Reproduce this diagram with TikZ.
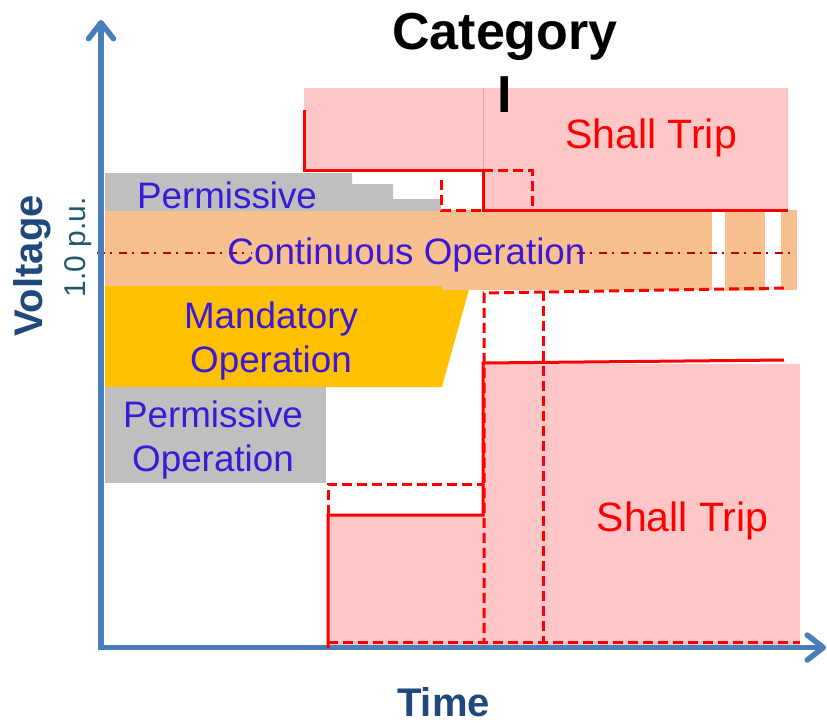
\documentclass[tikz,border=0pt]{standalone}
\usepackage{fontspec}
\setmainfont{Liberation Sans}
\usetikzlibrary{arrows.meta}

\definecolor{axisblue}{RGB}{74,126,187}
\definecolor{titleblue}{RGB}{31,73,125}
\definecolor{putext}{RGB}{33,88,104}
\definecolor{zonetext}{RGB}{60,25,215}
\definecolor{tripred}{RGB}{255,199,199}
\definecolor{tripedge}{RGB}{245,160,160}
\definecolor{contorange}{RGB}{249,192,143}
\definecolor{mandgold}{RGB}{255,192,0}
\definecolor{permgray}{RGB}{191,191,191}
\definecolor{nominalred}{RGB}{192,0,0}

\begin{document}
\begin{tikzpicture}[x=1pt,y=-1pt,
  axisline/.style={draw=axisblue,line width=5.5pt,
    -{Straight Barb[length=16pt,width=25pt,round]}},
  limit/.style={draw=red,line width=3pt},
  limitdash/.style={limit,dash pattern=on 10pt off 5pt},
  nominal/.style={draw=nominalred,line width=2.2pt,
    dash pattern=on 8pt off 5pt on 2pt off 7pt},
  zonelabel/.style={text=zonetext,inner sep=0pt,align=center,
    font=\fontsize{36.8}{44}\selectfont},
  triplabel/.style={text=red,inner sep=0pt,font=\fontsize{41}{49}\selectfont},
  axislabel/.style={text=titleblue,inner sep=0pt,font=\fontsize{40}{48}\selectfont\bfseries}]
\useasboundingbox (0,0) rectangle (827,724);

% upper trip region
\fill[tripred] (304,88) -- (788,88) -- (788,210) -- (483,210) -- (483,170)
  -- (304,170) -- cycle;
\draw[tripedge,line width=0.8pt] (483,88) -- (483,170);

% lower trip region
\fill[tripred] (328,515) -- (483,515) -- (483,364) -- (800,364) -- (800,646)
  -- (328,646) -- cycle;

% permissive band above nominal
\fill[permgray] (105,173) -- (352,173) -- (352,184) -- (393,184) -- (393,199)
  -- (441,199) -- (441,212) -- (105,212) -- cycle;

% mandatory operation band
\fill[mandgold] (105,286) -- (470,286) -- (443,383) -- (442,387) -- (105,387) -- cycle;

% continuous operation band
\fill[contorange] (105,211) rectangle (442,286);
\fill[contorange] (442,210) rectangle (712,290);
\fill[contorange] (725,210) rectangle (765,291);
\fill[contorange] (781,210) rectangle (797,290);

% permissive operation below mandatory
\fill[permgray] (105,387) rectangle (326,483);

% nominal voltage line
\draw[nominal] (97,253) -- (252,253);
\draw[nominal] (577,253) -- (790,253);

% axes
\draw[axisline] (101,650.25) -- (101,20);
\draw[axisline] (98.25,647.5) -- (826,647.5);

% trip boundaries
\draw[limit] (304,110) -- (304,170) -- (483,170) -- (483,210) -- (788,210);
\draw[limitdash] (441,180) -- (441,210) -- (483,210);
\draw[limitdash] (483,170) -- (532,170) -- (532,210);

\draw[limit] (784,360) -- (483,363) -- (483,515) -- (328,515) -- (328,648);
\draw[limitdash] (328,515) -- (328,484) -- (483,484);
\draw[limitdash] (784,288) -- (484,293) -- (484,642);
\draw[limitdash] (543,291) -- (543,642);
\draw[limitdash] (328,642) -- (800,642);

% labels
\node[inner sep=0pt,align=center,font=\fontsize{52}{63}\selectfont\bfseries]
  (cat) at (505,63) {Category\\I};
\node[triplabel,anchor=base] (tripup) at (651,148) {Shall Trip};
\node[triplabel,anchor=base] (triplow) at (682.5,531) {Shall Trip};
\node[zonelabel,anchor=base] (permup) at (227,208) {Permissive};
\node[zonelabel,anchor=base] (cont) at (406.5,264) {Continuous Operation};
\node[zonelabel] (mand) at (271,340.5) {Mandatory\\Operation};
\node[zonelabel] (permlow) at (213,439.7) {Permissive\\Operation};

\node[axislabel,anchor=base,rotate=90] (volt) at (42,266) {Voltage};
\node[text=putext,inner sep=0pt,anchor=base,rotate=90,
  font=\fontsize{30}{36}\selectfont] (pu) at (85,247.5) {1.0 p.u.};
\node[axislabel,anchor=base] (time) at (443.5,716) {Time};
\end{tikzpicture}
\end{document}
